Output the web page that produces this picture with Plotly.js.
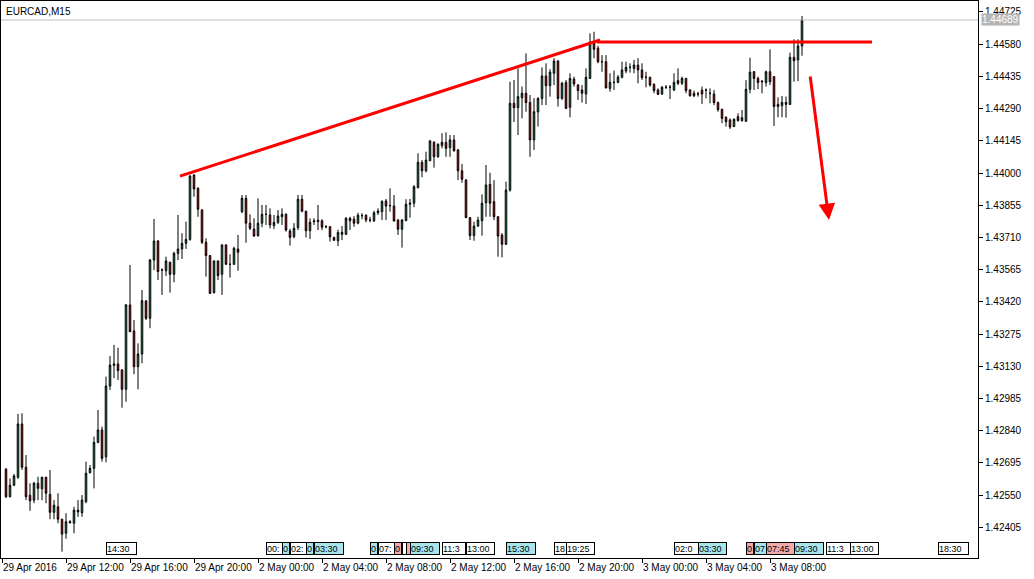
<!DOCTYPE html>
<html>
<head>
<meta charset="utf-8">
<script src="https://cdn.plot.ly/plotly-3.0.1.min.js"></script>
<style>
html,body{margin:0;padding:0;background:#fff;}
#chart{width:1034px;height:579px;}
</style>
</head>
<body>
<div id="chart"></div>
<script>
// EURCAD M15 bars (index 0 = first visible bar)
var openP = [
1.42666,1.42542,1.42594,1.42630,1.42870,1.42675,1.42549,1.42527,1.42603,1.42578,
1.42630,1.42553,1.42472,1.42497,1.42441,1.42378,1.42430,1.42423,1.42482,1.42470,
1.42520,1.42650,1.42670,1.42787,1.42843,1.42722,1.43041,1.43134,1.43140,1.43113,
1.43026,1.43406,1.43289,1.43128,1.43185,1.43424,1.43346,1.43608,1.43694,1.43563,
1.43560,1.43598,1.43544,1.43638,1.43658,1.43683,1.43701,1.43991,1.43931,1.43833,
1.43688,1.43628,1.43461,1.43604,1.43544,1.43676,1.43589,1.43589,1.43658,1.43826,
1.43886,1.43774,1.43748,1.43718,1.43774,1.43814,1.43811,1.43763,1.43778,1.43803,
1.43814,1.43739,1.43713,1.43754,1.43882,1.43828,1.43740,1.43781,1.43781,1.43785,
1.43758,1.43758,1.43710,1.43695,1.43733,1.43724,1.43796,1.43792,1.43774,1.43808,
1.43810,1.43788,1.43785,1.43821,1.43826,1.43874,1.43853,1.43851,1.43788,1.43747,
1.43785,1.43859,1.43864,1.43934,1.44048,1.44010,1.44055,1.44138,1.44073,1.44123,
1.44138,1.44114,1.44149,1.44104,1.44010,1.43968,1.43799,1.43718,1.43761,1.43785,
1.43866,1.43949,1.43871,1.43803,1.43721,1.43679,1.43923,1.44314,1.44294,1.44339,
1.44359,1.44318,1.44149,1.44275,1.44335,1.44437,1.44393,1.44449,1.44504,1.44336,
1.44408,1.44296,1.44423,1.44396,1.44374,1.44356,1.44426,1.44589,1.44562,1.44501,
1.44501,1.44381,1.44408,1.44408,1.44431,1.44459,1.44476,1.44471,1.44486,1.44464,
1.44431,1.44431,1.44399,1.44374,1.44356,1.44386,1.44386,1.44374,1.44416,1.44404,
1.44426,1.44374,1.44359,1.44356,1.44373,1.44373,1.44359,1.44356,1.44317,1.44286,
1.44251,1.44239,1.44209,1.44254,1.44236,1.44233,1.44377,1.44456,1.44426,1.44414,
1.44407,1.44456,1.44434,1.44299,1.44303,1.44318,1.44309,1.44521,1.44509,1.44572
];
var highP = [
1.42672,1.42625,1.42645,1.42915,1.42918,1.42730,1.42603,1.42609,1.42632,1.42632,
1.42632,1.42663,1.42527,1.42558,1.42443,1.42468,1.42437,1.42497,1.42527,1.42550,
1.42700,1.42685,1.42813,1.42933,1.42858,1.43083,1.43176,1.43226,1.43213,1.43117,
1.43410,1.43586,1.43338,1.43233,1.43473,1.43428,1.43613,1.43793,1.43698,1.43571,
1.43623,1.43601,1.43646,1.43811,1.43729,1.43781,1.43991,1.43995,1.43936,1.43838,
1.43706,1.43631,1.43606,1.43606,1.43679,1.43679,1.43634,1.43668,1.43721,1.43901,
1.43901,1.43814,1.43796,1.43886,1.43856,1.43856,1.43841,1.43811,1.43833,1.43841,
1.43819,1.43748,1.43774,1.43901,1.43901,1.43830,1.43796,1.43796,1.43856,1.43792,
1.43766,1.43761,1.43713,1.43745,1.43761,1.43802,1.43803,1.43806,1.43821,1.43819,
1.43814,1.43803,1.43830,1.43841,1.43878,1.43883,1.43931,1.43901,1.43793,1.43793,
1.43882,1.43883,1.43946,1.44089,1.44058,1.44096,1.44149,1.44144,1.44134,1.44179,
1.44183,1.44171,1.44171,1.44108,1.44041,1.43973,1.43802,1.43781,1.43803,1.43904,
1.44036,1.44001,1.43968,1.43806,1.43729,1.43961,1.44411,1.44419,1.44471,1.44389,
1.44539,1.44351,1.44337,1.44342,1.44476,1.44494,1.44468,1.44517,1.44509,1.44411,
1.44419,1.44449,1.44434,1.44401,1.44396,1.44471,1.44629,1.44636,1.44573,1.44531,
1.44531,1.44449,1.44461,1.44441,1.44501,1.44501,1.44494,1.44509,1.44517,1.44494,
1.44456,1.44434,1.44404,1.44381,1.44392,1.44396,1.44396,1.44449,1.44471,1.44434,
1.44428,1.44377,1.44371,1.44366,1.44389,1.44381,1.44381,1.44374,1.44321,1.44291,
1.44255,1.44246,1.44246,1.44269,1.44284,1.44418,1.44519,1.44459,1.44434,1.44419,
1.44461,1.44557,1.44437,1.44341,1.44347,1.44344,1.44542,1.44602,1.44602,1.44707
];
var lowP = [
1.42537,1.42540,1.42591,1.42623,1.42663,1.42527,1.42479,1.42513,1.42527,1.42527,
1.42513,1.42441,1.42441,1.42423,1.42295,1.42353,1.42423,1.42378,1.42452,1.42452,
1.42513,1.42648,1.42580,1.42783,1.42700,1.42697,1.43023,1.43076,1.43068,1.42943,
1.42970,1.43284,1.43094,1.43026,1.43143,1.43338,1.43301,1.43563,1.43518,1.43451,
1.43536,1.43461,1.43508,1.43608,1.43613,1.43658,1.43695,1.43893,1.43803,1.43680,
1.43533,1.43455,1.43458,1.43518,1.43451,1.43586,1.43529,1.43586,1.43560,1.43819,
1.43686,1.43743,1.43713,1.43713,1.43756,1.43766,1.43751,1.43748,1.43770,1.43766,
1.43736,1.43673,1.43706,1.43743,1.43823,1.43710,1.43703,1.43766,1.43743,1.43743,
1.43751,1.43691,1.43695,1.43671,1.43698,1.43721,1.43743,1.43758,1.43769,1.43792,
1.43778,1.43778,1.43779,1.43811,1.43788,1.43788,1.43826,1.43781,1.43721,1.43664,
1.43784,1.43799,1.43846,1.43931,1.43981,1.44003,1.44054,1.44024,1.44069,1.44111,
1.44073,1.44073,1.44096,1.43968,1.43956,1.43797,1.43698,1.43695,1.43758,1.43718,
1.43803,1.43803,1.43788,1.43623,1.43620,1.43676,1.43916,1.44230,1.44171,1.44246,
1.44276,1.44073,1.44104,1.44209,1.44306,1.44306,1.44344,1.44396,1.44299,1.44329,
1.44288,1.44251,1.44389,1.44329,1.44317,1.44311,1.44424,1.44517,1.44494,1.44456,
1.44381,1.44366,1.44374,1.44404,1.44426,1.44449,1.44452,1.44449,1.44404,1.44419,
1.44386,1.44389,1.44359,1.44351,1.44351,1.44378,1.44333,1.44369,1.44396,1.44396,
1.44359,1.44344,1.44341,1.44344,1.44311,1.44336,1.44314,1.44306,1.44276,1.44224,
1.44209,1.44198,1.44207,1.44231,1.44231,1.44231,1.44359,1.44374,1.44378,1.44359,
1.44389,1.44396,1.44212,1.44251,1.44251,1.44249,1.44306,1.44411,1.44414,1.44528
];
var closeP = [
1.42542,1.42594,1.42636,1.42870,1.42675,1.42542,1.42524,1.42603,1.42580,1.42630,
1.42558,1.42472,1.42504,1.42441,1.42374,1.42430,1.42425,1.42482,1.42474,1.42527,
1.42648,1.42670,1.42787,1.42843,1.42715,1.43041,1.43135,1.43140,1.43110,1.43026,
1.43406,1.43285,1.43128,1.43185,1.43425,1.43346,1.43608,1.43694,1.43556,1.43563,
1.43604,1.43544,1.43638,1.43658,1.43683,1.43701,1.43986,1.43928,1.43837,1.43688,
1.43628,1.43458,1.43604,1.43538,1.43676,1.43589,1.43589,1.43661,1.43643,1.43886,
1.43774,1.43751,1.43716,1.43774,1.43814,1.43814,1.43766,1.43778,1.43806,1.43814,
1.43743,1.43710,1.43751,1.43882,1.43828,1.43740,1.43778,1.43784,1.43787,1.43756,
1.43758,1.43712,1.43697,1.43732,1.43724,1.43796,1.43785,1.43774,1.43810,1.43808,
1.43788,1.43788,1.43821,1.43829,1.43871,1.43851,1.43853,1.43784,1.43747,1.43788,
1.43859,1.43864,1.43938,1.44048,1.44010,1.44058,1.44144,1.44073,1.44129,1.44138,
1.44111,1.44149,1.44100,1.44010,1.43972,1.43799,1.43718,1.43761,1.43788,1.43864,
1.43946,1.43864,1.43803,1.43716,1.43679,1.43923,1.44314,1.44294,1.44344,1.44359,
1.44317,1.44149,1.44276,1.44335,1.44437,1.44393,1.44454,1.44504,1.44336,1.44404,
1.44291,1.44426,1.44401,1.44371,1.44359,1.44431,1.44589,1.44557,1.44501,1.44501,
1.44383,1.44408,1.44408,1.44432,1.44464,1.44476,1.44476,1.44486,1.44464,1.44429,
1.44431,1.44396,1.44371,1.44354,1.44386,1.44386,1.44386,1.44408,1.44404,1.44426,
1.44371,1.44348,1.44348,1.44356,1.44356,1.44373,1.44359,1.44317,1.44285,1.44246,
1.44231,1.44207,1.44242,1.44236,1.44249,1.44377,1.44454,1.44426,1.44407,1.44411,
1.44456,1.44411,1.44299,1.44309,1.44318,1.44309,1.44521,1.44506,1.44572,1.44689
];

// time axis labels (bar index of each label)
var timeTickBars = [-1, 15, 31, 47, 63, 79, 95, 111, 127, 143, 159, 175, 191];
var timeTickLabels = ["29 Apr 2016","29 Apr 12:00","29 Apr 16:00","29 Apr 20:00","2 May 00:00","2 May 04:00",
  "2 May 08:00","2 May 12:00","2 May 16:00","2 May 20:00","3 May 00:00","3 May 04:00","3 May 08:00"];

// price scale labels
var priceTicks = [1.42405,1.42550,1.42695,1.42840,1.42985,1.43130,1.43275,1.43420,1.43565,
  1.43710,1.43855,1.44000,1.44145,1.44290,1.44435,1.44580,1.44725];
var lastPrice = 1.44689;
var symbolLabel = "EURCAD,M15";

// economic calendar events: bar index, time label, importance
var eventBars = [25, 65, 69, 71, 75, 77, 91, 93, 97, 99, 100, 101, 109, 115, 125, 137, 140, 167, 173, 185, 187, 190, 197, 205, 211, 233];
var eventLabels = ["14:30","00:30","01:30","02:00","03:00","03:30","07:00","07:30","08:30","09:00","09:15","09:30",
  "11:30","13:00","15:30","18:30","19:25","02:00","03:30","06:30","07:00","07:45","09:30","11:30","13:00","18:30"];
var eventKinds = ["n","n","m","n","m","m","m","n","h","n","h","m","n","n","m","n","n","n","m","h","m","h","m","n","n","n"];

// analyst drawings (bar index, price)
var trendBars = [43.5, 148.5];
var trendPrices = [1.43986, 1.44599];
var levelBars = [147.75, 216.5];
var levelPrice = 1.44590;
var arrowBars = [201, 205.75];
var arrowPrices = [1.44441, 1.43788];

// --- styling ---
var FONT = "Liberation Sans, Arial, sans-serif";
var bull = "#26a65b", bear = "#ff0000";
var kindColor = {n: "#ffffff", m: "#a8e4ec", h: "#f5aaaa"};
var eventBoxWidth = [29, 15, 6, 15, 6, 28, 6, 15, 6, 3, 3, 28, 22, 27, 28, 11, 27, 23, 27, 6, 11, 27, 28, 23, 27, 29];

// cut a label to what fits in its (overlapped) calendar box, as the terminal does
function fitText(s, w) {
  var out = "", acc = 1;
  for (var j = 0; j < s.length; j++) {
    var cw = (s[j] === ":") ? 2.5 : 5;
    if (acc + cw > w) break;
    acc += cw; out += s[j];
  }
  return out.length ? out : " ";
}

var xs = openP.map(function(_, i){ return i; });

var trace = {
  type: "candlestick",
  x: xs, open: openP, high: highP, low: lowP, close: closeP,
  increasing: {line: {color: "#000000", width: 1}, fillcolor: bull},
  decreasing: {line: {color: "#000000", width: 1}, fillcolor: bear},
  whiskerwidth: 0,
  hoverinfo: "skip",
  showlegend: false
};

var annotations = [];
annotations.push({xref: "paper", yref: "paper", x: 0, y: 1, xanchor: "left", yanchor: "top",
  xshift: 3, yshift: -3, text: symbolLabel, showarrow: false,
  font: {family: FONT, size: 10, color: "#000"}});
annotations.push({xref: "paper", yref: "y", x: 1, y: lastPrice, xanchor: "left", yanchor: "middle",
  xshift: 3, text: lastPrice.toFixed(5), showarrow: false, bgcolor: "#b4b4b4", borderpad: 0,
  font: {family: FONT, size: 10, color: "#ffffff"}});
for (var i = 0; i < eventBars.length; i++) {
  annotations.push({xref: "x", yref: "paper", x: eventBars[i], y: 0.0165, xanchor: "left", yanchor: "middle",
    text: fitText(eventLabels[i], eventBoxWidth[i]), showarrow: false,
    width: eventBoxWidth[i], height: 11, align: "left",
    bgcolor: kindColor[eventKinds[i]], bordercolor: "#000", borderwidth: 1, borderpad: 0,
    font: {family: FONT, size: 9, color: "#000"}});
}
annotations.push({xref: "x", yref: "y", x: arrowBars[1], y: arrowPrices[1],
  axref: "x", ayref: "y", ax: arrowBars[0], ay: arrowPrices[0], text: "", showarrow: true,
  arrowhead: 2, arrowsize: 1.1, arrowwidth: 3, arrowcolor: "#ff0000"});

var shapes = [
  {type: "line", xref: "paper", yref: "y", x0: 0, x1: 1, y0: lastPrice, y1: lastPrice,
   line: {color: "#c0c0c0", width: 1}},
  {type: "line", xref: "x", yref: "y", x0: trendBars[0], x1: trendBars[1], y0: trendPrices[0], y1: trendPrices[1],
   line: {color: "#ff0000", width: 3}},
  {type: "line", xref: "x", yref: "y", x0: levelBars[0], x1: levelBars[1], y0: levelPrice, y1: levelPrice,
   line: {color: "#ff0000", width: 3}}
];

var layout = {
  width: 1034, height: 579,
  margin: {l: 1, r: 56, t: 1, b: 21, pad: 0},
  paper_bgcolor: "#ffffff", plot_bgcolor: "#ffffff",
  showlegend: false,
  boxgap: 0.45,
  font: {family: FONT, size: 10, color: "#000"},
  xaxis: {
    range: [-1.25, 243], tickmode: "array", tickvals: timeTickBars, ticktext: timeTickLabels,
    ticks: "outside", ticklen: 4, tickcolor: "#000", tickwidth: 1,
    ticklabelposition: "outside right", tickangle: 0,
    tickfont: {family: FONT, size: 10, color: "#000"},
    showgrid: false, zeroline: false, showline: true, mirror: true, linecolor: "#000", linewidth: 1,
    rangeslider: {visible: false}, fixedrange: true
  },
  yaxis: {
    side: "right", range: [1.422664, 1.447745], tickmode: "array", tickvals: priceTicks,
    ticktext: priceTicks.map(function(v){ return v.toFixed(5); }),
    ticks: "outside", ticklen: 4, tickcolor: "#000", tickwidth: 1,
    tickfont: {family: FONT, size: 10, color: "#000"},
    showgrid: false, zeroline: false, showline: true, mirror: true, linecolor: "#000", linewidth: 1,
    fixedrange: true
  },
  annotations: annotations,
  shapes: shapes
};

Plotly.newPlot("chart", [trace], layout, {staticPlot: true, displayModeBar: false});
</script>
</body>
</html>
